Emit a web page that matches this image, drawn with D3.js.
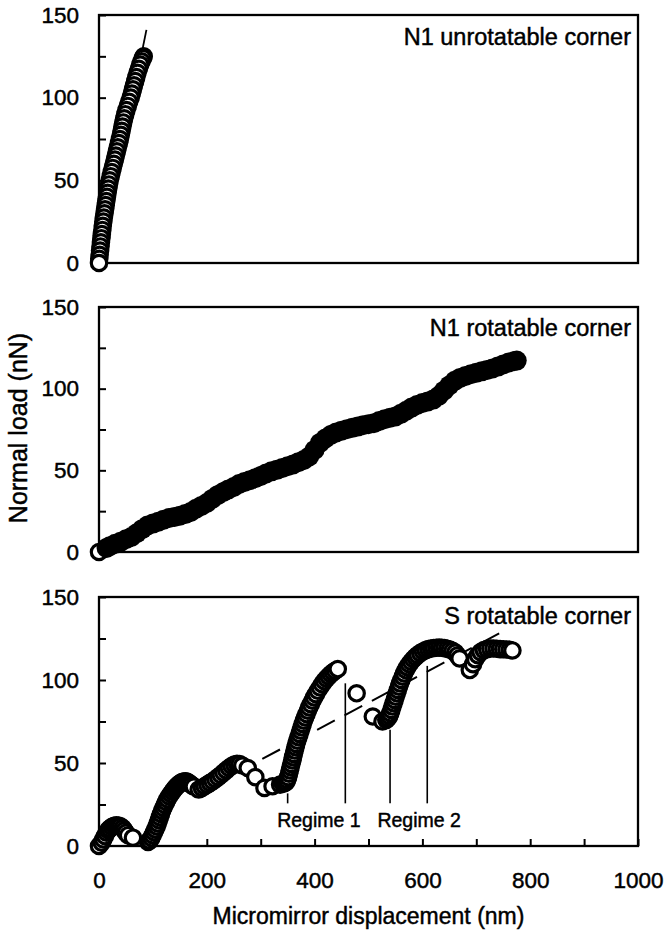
<!DOCTYPE html>
<html>
<head>
<meta charset="utf-8">
<script src="https://cdn.jsdelivr.net/npm/d3@7"></script>
<style>
  html, body { margin: 0; padding: 0; background: #fff; }
  svg text {
    font-family: "Liberation Sans", Arial, Helvetica, sans-serif;
    fill: #000; stroke: #000; stroke-width: 0.45px;
  }
</style>
</head>
<body>
<svg id="chart" width="667" height="935"></svg>
<script>
// ---- data: micromirror displacement (nm) vs normal load (nN) ----
const xTickValues = [0, 200, 400, 600, 800, 1000];
const yTickValues = [0, 50, 100, 150];
const panelTitles = ["N1 unrotatable corner", "N1 rotatable corner", "S rotatable corner"];

// N1 unrotatable corner
const n1Unrotatable = [
  [0,0],[0.5,2.5],[1.2,5],[2,7.5],[2.8,10],[3.6,12.5],[4.5,15],[5.3,17.5],[6.2,20],[7,22.5],
  [8,25],[9,27.5],[10.2,30],[11.3,32.5],[12.5,35],[13.6,37.5],[14.8,40],[16,42.5],[17.2,45],[18.5,47.5],
  [20,50],[21.8,52.5],[23.6,55],[25.5,57.5],[27.5,60],[29.5,62.5],[31.3,65],[33.2,67.5],[35,70],[37,72.5],
  [38.8,75],[40.5,77.5],[42,80],[43.5,82.5],[45,85],[46.8,87.5],[48.8,90],[51,92.5],[53.5,95],[56,97.5],
  [58.8,100],[61,102.5],[63,105],[65,107.5],[67.2,110],[69.3,112.5],[71.5,115],[74,117.5],[76.5,120],[79,122],
  [81.5,124],[83,125]
];
const n1UnrotatableFit = [[0, 0], [88, 141]];

// N1 rotatable corner
const n1Rotatable = [
  [0,0],[14,2.5],[20,3.5],[30,5],[40,6.2],[50,7.8],[60,9.2],[70,11.5],[80,14],[90,16.2],
  [100,17.4],[110,18.5],[120,19.8],[130,20.8],[140,21.5],[150,22.2],[160,23.2],[170,24.5],[180,26.5],[190,28.2],
  [200,30],[210,32.5],[220,34.8],[230,36.6],[240,38.3],[250,39.8],[260,41.6],[270,42.9],[280,44],[290,45.2],
  [300,46.6],[310,48.1],[320,49.4],[330,50.3],[340,51.4],[350,52.5],[360,53.6],[370,55],[380,56.3],[390,58.5],
  [400,62.5],[410,66.8],[420,69.5],[430,71.6],[440,73.2],[450,74.3],[460,75.2],[470,76],[480,76.8],[490,77.6],
  [500,78.2],[510,78.9],[520,80.2],[530,81.3],[540,82.2],[550,83],[560,84.6],[570,86.5],[580,88.4],[590,90],
  [600,91.2],[610,92.2],[620,93.3],[630,95.5],[640,98.8],[650,102],[660,104.8],[670,106.6],[680,107.8],[690,108.8],
  [700,109.7],[710,110.6],[720,111.5],[730,112.4],[740,113.5],[750,114.8],[760,116],[770,116.8],[775,117.2]
];

// S rotatable corner
const sRotatable = [
  [0,0],[5,2],[8,4],[11,6],[14,8],[17,9.5],[20,10.5],[24,11.5],[28,12.2],[32,12.5],[36,12.3],[40,11.8],
  [44,10.8],[47,9.5],[50,8],[54,6.5],
  [63,5],
  [91,2.5],
  [94,3.2],[97,4.8],[99.5,6.5],[102,8.3],[104.5,10],[107,11.8],[109,13.6],[111,15.5],[113,17.4],[115,19.3],
  [117,21.2],[119.5,23],[122,24.8],[124.5,26.5],[127,28.2],[130,29.8],[133,31.3],[136,32.7],[139,34],[142,35.2],
  [145,36.2],[148,37.1],[151,37.9],[154,38.5],[157,38.9],[160,39],[163,38.8],[166,38.2],[169,37.5],[172,36.7],
  [176,35.8],
  [185,34],
  [191,35],[196,36],[201,37],[206,38],[211,39],[216,40.2],[221,41.5],[226,42.8],[231,44.2],[236,45.6],
  [241,47],[246,48.2],[251,49],[256,49.5],[261,49.3],[266,48.5],
  [276,47],[290,41.5],[307,35],[322,36],[336,37],
  [341,37.5],[344,37.8],[347,38.5],[349,39.8],[351,41.5],[352.5,43.5],[354,45.5],[355.5,47.5],[357,49.5],[358.5,51.5],
  [360,53.5],[361.5,55.5],[363,57.5],[364.5,59.5],[366,61.5],[368,63.5],[370,65.5],[372,67.5],[374,69.5],[376,71.5],
  [378,73.5],[380,75.5],[382.5,77.5],[385,79.5],[387.5,81.5],[390,83.5],[393,85.5],[396,87.5],[399,89.5],[402.5,91.5],
  [406,93.5],[410,95.5],[414,97.5],[418,99.3],[422,100.8],[426,102.2],[430,103.5],[434,104.6],[438,105.6],[443,106.6],
  [478,92],[508,78],[526,75],
  [533,76],[536,77],[538.5,78.3],[540.5,80],[542.5,82],[544.5,84],[546.5,86],[548.5,88],[550.5,90],[552.5,92],
  [554.5,94],[556.5,96],[558.5,98],[561,100],[563.5,102],[566,104],[569,106],[572,107.8],[575.5,109.5],[579,111],
  [583,112.5],[587,113.8],[591,115],[596,116.2],[601,117.2],[606,118],[611,118.6],[616,119],[621,119.3],[626,119.4],
  [631,119.5],[636,119.4],[641,119.2],[646,118.8],[651,118.3],[656,117.6],[661,116.5],[665,114.8],
  [669,113],[688,106],
  [694,109.5],[698,112.5],[703,115],[708,116.8],[714,118],[720,118.6],[726,119],[732,119],[738,118.8],
  [744,118.6],[750,118.5],[756,118.4],[762,118.2],[767,117.8]
];
const sRotatableFit = [[303, 52.5], [748, 129]];

// regime boundaries: displacement (nm) and the load (nN) each marker reaches up to
const regimeBoundaries = [[350, 31.7], [457, 98], [540, 70], [609, 108.5]];
const regimeBaseLoad = 25.7;
const regimeLabels = [["Regime 1", 408], ["Regime 2", 594]];
const regimeLabelLoad = 11.2;

// ---- layout ----
const svg = d3.select("#chart");
const plotLeft = 99, plotRight = 638;
const panels = [
  { top: 15,  bottom: 263 },
  { top: 307, bottom: 552 },
  { top: 597, bottom: 846 }
];
const x = d3.scaleLinear().domain([0, 1000]).range([plotLeft, plotRight]);
const tickFont = 22.5;
const markerR = 7.7;
const markerStroke = 3.2;

panels.forEach((p, i) => {
  p.y = d3.scaleLinear().domain([0, 150]).range([p.bottom, p.top]);
  const g = svg.append("g");
  p.g = g;

  // frame
  g.append("rect")
    .attr("x", plotLeft).attr("y", p.top)
    .attr("width", plotRight - plotLeft).attr("height", p.bottom - p.top)
    .attr("fill", "none").attr("stroke", "#000").attr("stroke-width", 2.3);

  // y axis: inward ticks every 25, labels every 50
  const yAxis = d3.axisLeft(p.y)
    .tickValues(d3.range(0, 151, 25))
    .tickSize(-7)
    .tickPadding(20)
    .tickFormat(d => yTickValues.includes(d) ? d : "");
  const ya = g.append("g").attr("transform", `translate(${plotLeft},0)`).call(yAxis);
  ya.select(".domain").remove();
  ya.selectAll(".tick line").attr("stroke", "#000").attr("stroke-width", 2);
  ya.selectAll(".tick text").attr("font-size", tickFont).attr("fill", "#000")
    .style("font-family", '"Liberation Sans", Arial, sans-serif');

  // panel title
  g.append("text")
    .attr("x", 631).attr("y", p.top + [30, 29, 27][i])
    .attr("text-anchor", "end")
    .attr("font-size", 23.5)
    .text(panelTitles[i]);
});

// x axis on the bottom panel only
{
  const p = panels[2];
  const xAxis = d3.axisBottom(x)
    .tickValues(d3.range(0, 1001, 100))
    .tickSize(-7)
    .tickPadding(26)
    .tickFormat(d => xTickValues.includes(d) ? d : "");
  const xa = p.g.append("g").attr("transform", `translate(0,${p.bottom})`).call(xAxis);
  xa.select(".domain").remove();
  xa.selectAll(".tick line").attr("stroke", "#000").attr("stroke-width", 2);
  xa.selectAll(".tick text").attr("font-size", tickFont).attr("fill", "#000")
    .style("font-family", '"Liberation Sans", Arial, sans-serif');
}

// axis titles
svg.append("text")
  .attr("x", (plotLeft + plotRight) / 2).attr("y", 924)
  .attr("text-anchor", "middle").attr("font-size", 23)
  .text("Micromirror displacement (nm)");
svg.append("text")
  .attr("transform", "translate(27,428) rotate(-90)")
  .attr("text-anchor", "middle").attr("font-size", 25)
  .text("Normal load (nN)");

function lineOf(y) {
  return d3.line().x(d => x(d[0])).y(d => y(d[1]));
}

// ---- panel 1: N1 unrotatable corner ----
{
  const p = panels[0];
  p.g.append("path").datum(n1UnrotatableFit)
    .attr("d", lineOf(p.y)).attr("fill", "none")
    .attr("stroke", "#000").attr("stroke-width", 1.8);
  p.g.append("g").selectAll("circle")
    .data(n1Unrotatable.slice().reverse())
    .join("circle")
    .attr("cx", d => x(d[0])).attr("cy", d => p.y(d[1]))
    .attr("r", markerR)
    .attr("fill", "#fff").attr("stroke", "#000").attr("stroke-width", markerStroke);
}

// ---- panel 2: N1 rotatable corner ----
{
  const p = panels[1];
  p.g.append("g").selectAll("circle")
    .data(n1Rotatable)
    .join("circle")
    .attr("cx", d => x(d[0])).attr("cy", d => p.y(d[1]))
    .attr("r", (d, i) => i === 0 ? markerR : 10)
    .attr("fill", (d, i) => i === 0 ? "#fff" : "#000")
    .attr("stroke", (d, i) => i === 0 ? "#000" : "none")
    .attr("stroke-width", markerStroke);
}

// ---- panel 3: S rotatable corner ----
{
  const p = panels[2];
  // regime boundary markers
  p.g.append("g").selectAll("line")
    .data(regimeBoundaries)
    .join("line")
    .attr("x1", d => x(d[0])).attr("x2", d => x(d[0]))
    .attr("y1", p.y(regimeBaseLoad)).attr("y2", d => p.y(d[1]))
    .attr("stroke", "#000").attr("stroke-width", 1.6);
  p.g.append("g").selectAll("text")
    .data(regimeLabels)
    .join("text")
    .attr("x", d => x(d[1])).attr("y", p.y(regimeLabelLoad))
    .attr("text-anchor", "middle").attr("font-size", 19.5)
    .text(d => d[0]);
  // dashed fit
  p.g.append("path").datum(sRotatableFit)
    .attr("d", lineOf(p.y)).attr("fill", "none")
    .attr("stroke", "#000").attr("stroke-width", 2)
    .attr("stroke-dasharray", "20,11");
  p.g.append("g").selectAll("circle")
    .data(sRotatable)
    .join("circle")
    .attr("cx", d => x(d[0])).attr("cy", d => p.y(d[1]))
    .attr("r", markerR)
    .attr("fill", "#fff").attr("stroke", "#000").attr("stroke-width", markerStroke);
}
</script>
</body>
</html>
